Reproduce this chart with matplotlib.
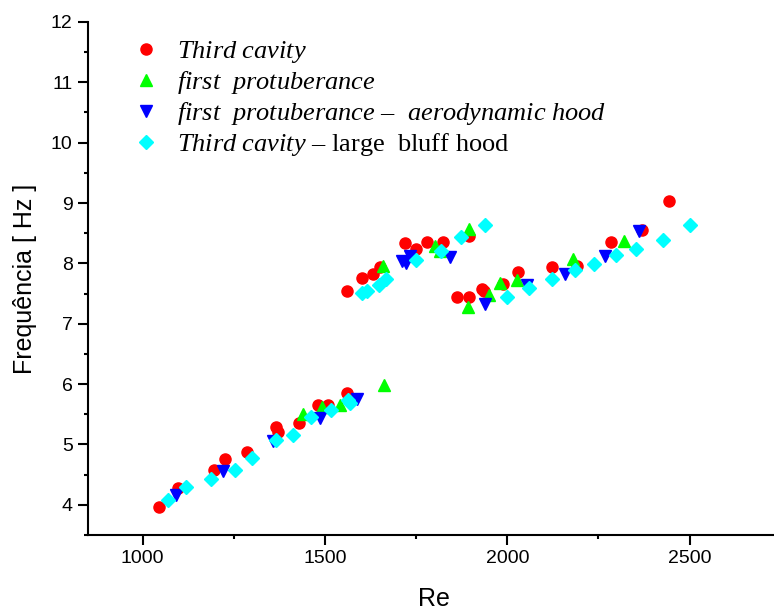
import matplotlib as mpl
mpl.use('Agg')
import matplotlib.pyplot as plt
from matplotlib.ticker import MultipleLocator

mpl.rcParams['mathtext.fontset'] = 'custom'
mpl.rcParams['mathtext.rm'] = 'Liberation Serif'
mpl.rcParams['mathtext.it'] = 'Liberation Serif:italic'

# Third cavity (red circles)
re_cav = [1045, 1096, 1195, 1225, 1286, 1365, 1370, 1430, 1482, 1509, 1560,
          1560, 1601, 1633, 1651, 1720, 1749, 1779, 1825, 1896,
          1863, 1896, 1930, 1937, 1989, 2030, 2122, 2192, 2284, 2369, 2444]
f_cav = [3.97, 4.28, 4.58, 4.76, 4.87, 5.29, 5.20, 5.36, 5.66, 5.66, 5.86,
         7.55, 7.75, 7.83, 7.94, 8.34, 8.24, 8.35, 8.35, 8.45,
         7.45, 7.45, 7.57, 7.55, 7.66, 7.86, 7.94, 7.96, 8.35, 8.55, 9.04]

# first protuberance (green triangles up)
re_prot = [1440, 1491, 1542, 1661, 1659, 1803, 1815, 1896, 1893, 1949,
           1979, 2026, 2180, 2321]
f_prot = [5.50, 5.62, 5.65, 5.98, 7.96, 8.28, 8.20, 8.57, 7.28, 7.48,
          7.67, 7.73, 8.07, 8.37]

# first protuberance - aerodynamic hood (blue triangles down)
re_aero = [1091, 1221, 1358, 1487, 1588, 1710, 1722, 1734, 1843, 1940,
           2054, 2158, 2268, 2361]
f_aero = [4.17, 4.56, 5.06, 5.44, 5.75, 8.04, 8.00, 8.13, 8.11, 7.33,
          7.65, 7.83, 8.13, 8.54]

# Third cavity - large bluff hood (cyan diamonds)
re_bluff = [1070, 1120, 1188, 1254, 1299, 1366, 1411, 1461, 1516, 1564, 1569,
            1601, 1616, 1647, 1668, 1750, 1817, 1873, 1940,
            2000, 2060, 2123, 2186, 2237, 2298, 2354, 2426, 2500]
f_bluff = [4.08, 4.29, 4.43, 4.58, 4.77, 5.07, 5.15, 5.46, 5.57, 5.73, 5.68,
           7.51, 7.55, 7.65, 7.74, 8.05, 8.20, 8.44, 8.64,
           7.45, 7.59, 7.74, 7.89, 7.99, 8.14, 8.24, 8.39, 8.64]

labels = [r'$\mathit{Third\ cavity}$',
          r'$\mathit{first\ \ protuberance}$',
          r'$\mathit{first\ \ protuberance}$ –  $\mathit{aerodynamic\ hood}$',
          r'$\mathit{Third\ cavity}$ – large  bluff hood']

fig = plt.figure(figsize=(7.74, 6.10), dpi=100)
ax = fig.add_axes([0.1137, 0.123, 0.895, 0.841])

ax.plot(re_cav, f_cav, 'o', color='#ff0000', markersize=8, label=labels[0])
ax.plot(re_prot, f_prot, '^', color='#00ff00', markersize=9, label=labels[1])
ax.plot(re_aero, f_aero, 'v', color='#0000ff', markersize=9, label=labels[2])
ax.plot(re_bluff, f_bluff, 'D', color='#00ffff', markersize=7.5, label=labels[3])

ax.set_xlim(850, 2750)
ax.set_ylim(3.5, 12)
ax.xaxis.set_major_locator(MultipleLocator(500))
ax.xaxis.set_minor_locator(MultipleLocator(250))
ax.yaxis.set_major_locator(MultipleLocator(1))
ax.yaxis.set_minor_locator(MultipleLocator(0.5))
ax.spines['top'].set_visible(False)
ax.spines['right'].set_visible(False)
ax.spines['left'].set_linewidth(1.5)
ax.spines['bottom'].set_linewidth(1.5)
ax.tick_params(which='major', direction='out', length=7, width=1.5, pad=4,
               labelsize=14, labelfontfamily='Liberation Sans')
ax.tick_params(which='minor', direction='out', length=3, width=1.5)

ax.set_xlabel('Re', fontsize=18, family='Liberation Sans', labelpad=14)
ax.set_ylabel('Frequência [ Hz ]', fontsize=18, family='Liberation Sans', labelpad=10)

leg = ax.legend(loc='upper left', bbox_to_anchor=(0.03, 1.013), frameon=False,
                prop={'family': 'Liberation Serif', 'size': 19},
                handletextpad=0.7, labelspacing=0.15, handlelength=1.0)

fig.savefig('out.png', dpi=100)
